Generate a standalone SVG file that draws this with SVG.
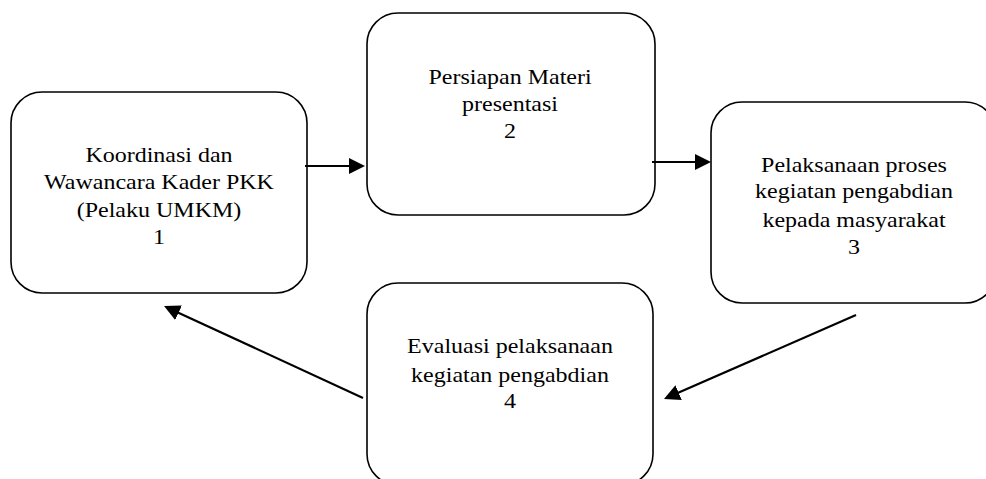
<svg xmlns="http://www.w3.org/2000/svg" width="986" height="479" viewBox="0 0 986 479">
<style>
.box{fill:#fff;stroke:#000;stroke-width:1.6}
.t{font-family:'Liberation Serif','DejaVu Serif',serif;font-size:20px;text-anchor:middle;fill:#000}
.c{stroke:#000;stroke-width:2.2;fill:none;marker-end:url(#ah)}
</style>
<defs>
<marker id="ah" markerUnits="userSpaceOnUse" markerWidth="17" markerHeight="16" refX="8" refY="8" orient="auto" viewBox="0 0 17 16">
<path d="M0,0 L16,8 L0,16 z" fill="#000"/>
</marker>
</defs>
<rect width="986" height="479" fill="#fff"/>
<g id="node1">
<rect class="box" x="11" y="92" width="296" height="201" rx="31" ry="31"/>
<text class="t" font-family="Liberation Serif, serif" transform="translate(159 0) scale(1.2 1)"><tspan x="0" y="161.7">Koordinasi dan</tspan><tspan x="0" y="189.3">Wawancara Kader PKK</tspan><tspan x="0" y="216.7">(Pelaku UMKM)</tspan><tspan x="0" y="244.3">1</tspan></text>
</g>
<g id="node2">
<rect class="box" x="367" y="13" width="288" height="202" rx="31" ry="31"/>
<text class="t" font-family="Liberation Serif, serif" transform="translate(510 0) scale(1.2 1)"><tspan x="0" y="84.3">Persiapan Materi</tspan><tspan x="0" y="111">presentasi</tspan><tspan x="0" y="138.3">2</tspan></text>
</g>
<g id="node3">
<rect class="box" x="711" y="102" width="285" height="201" rx="31" ry="31"/>
<text class="t" font-family="Liberation Serif, serif" transform="translate(854 0) scale(1.2 1)"><tspan x="0" y="171.7">Pelaksanaan proses</tspan><tspan x="0" y="198.3">kegiatan pengabdian</tspan><tspan x="0" y="226.7">kepada masyarakat</tspan><tspan x="0" y="254.3">3</tspan></text>
</g>
<g id="node4">
<rect class="box" x="367" y="283" width="286" height="202" rx="31" ry="31"/>
<text class="t" font-family="Liberation Serif, serif" transform="translate(510 0) scale(1.2 1)"><tspan x="0" y="353.3">Evaluasi pelaksanaan</tspan><tspan x="0" y="381.7">kegiatan pengabdian</tspan><tspan x="0" y="407.7">4</tspan></text>
</g>
<g id="connectors">
<line class="c" x1="305" y1="166" x2="357" y2="166"/>
<line class="c" x1="652" y1="162" x2="703" y2="162"/>
<line class="c" x1="856" y1="315" x2="671.3" y2="395.8"/>
<line class="c" x1="363" y1="398" x2="171.3" y2="309.4"/>
</g>
</svg>
